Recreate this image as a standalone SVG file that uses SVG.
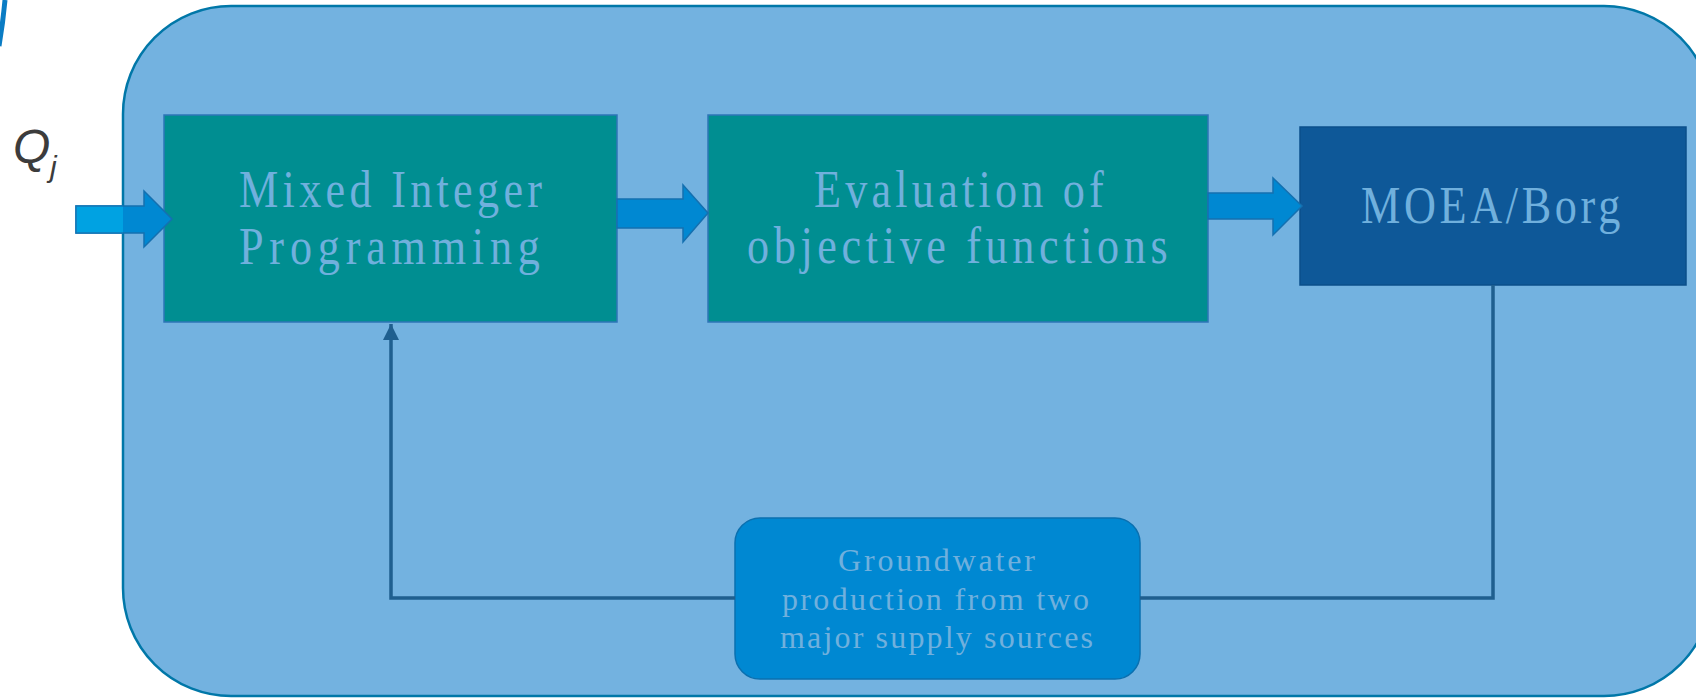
<svg xmlns="http://www.w3.org/2000/svg" width="1696" height="698" viewBox="0 0 1696 698">
  <defs>
    <style>
      .box { stroke-width: 1.5; }
      .lbl { font-family: "Liberation Serif", "Times New Roman", serif; fill: #70b0dd; }
      .big { font-size: 52px; }
      .small { font-size: 32px; }
      .fat { fill: #0088d2; stroke: #1470b0; stroke-width: 1.5; stroke-linejoin: miter; }
      .fb { fill: none; stroke: #1f5f8f; stroke-width: 3.5; }
    </style>
    <marker id="ah" markerUnits="userSpaceOnUse" markerWidth="18" markerHeight="18" refX="16" refY="8" orient="auto">
      <path d="M0,0 L16,8 L0,16 Z" fill="#1f5f8f"/>
    </marker>
    <clipPath id="outside">
      <rect x="0" y="0" width="123" height="698"/>
    </clipPath>
  </defs>

  <rect width="1696" height="698" fill="#ffffff"/>
  <path d="M5,0 Q3,22 -1,46" fill="none" stroke="#0a7cc4" stroke-width="5"/>

  <g id="container">
    <rect x="123" y="6" width="1589" height="690" rx="108" ry="108" fill="#73b2e0" stroke="#0077a8" stroke-width="2.5"/>
  </g>

  <g id="q-label">
    <text x="13" y="163" font-family="Liberation Sans, Arial, sans-serif" font-style="italic" font-size="48" fill="#3c3c3c">Q</text>
    <text x="50" y="177" font-family="Liberation Sans, Arial, sans-serif" font-style="italic" font-size="30" fill="#3c3c3c">j</text>
  </g>

  <g id="node-mip">
    <rect class="box" x="164" y="115" width="453" height="207" fill="#008e91" stroke="#2e75b6"/>
    <text class="lbl big" transform="translate(239,207) scale(0.85,1)" textLength="356.5" lengthAdjust="spacing">Mixed Integer</text>
    <text class="lbl big" transform="translate(239,264) scale(0.85,1)" textLength="354" lengthAdjust="spacing">Programming</text>
  </g>

  <g id="node-eval">
    <rect class="box" x="708" y="115" width="500" height="207" fill="#008e91" stroke="#2e75b6"/>
    <text class="lbl big" transform="translate(814,207) scale(0.85,1)" textLength="341" lengthAdjust="spacing">Evaluation of</text>
    <text class="lbl big" transform="translate(747,263) scale(0.85,1)" textLength="495" lengthAdjust="spacing">objective functions</text>
  </g>

  <g id="node-moea">
    <rect class="box" x="1300" y="127" width="386" height="158" fill="#0e5898" stroke="#0b4f8a"/>
    <text class="lbl big" transform="translate(1361,223) scale(0.85,1)" textLength="305" lengthAdjust="spacing">MOEA/Borg</text>
  </g>

  <g id="node-groundwater">
    <rect x="735" y="518" width="405" height="161" rx="25" ry="25" fill="#0088d2" stroke="#0a70b0" stroke-width="1.5"/>
    <text class="lbl small" x="838" y="571" textLength="197" lengthAdjust="spacing">Groundwater</text>
    <text class="lbl small" x="782" y="610" textLength="307" lengthAdjust="spacing">production from two</text>
    <text class="lbl small" x="780" y="648" textLength="313" lengthAdjust="spacing">major supply sources</text>
  </g>

  <g id="connectors">
    <path class="fat" d="M76,206 L144,206 L144,191 L172,219 L144,247 L144,233 L76,233 Z"/>
    <path d="M76,206 L144,206 L144,191 L172,219 L144,247 L144,233 L76,233 Z" fill="#00a2e2" stroke="#1478b8" stroke-width="1.5" clip-path="url(#outside)"/>
    <path class="fat" d="M617,199 L683,199 L683,185 L708,213 L683,242 L683,228 L617,228 Z"/>
    <path class="fat" d="M1208,193 L1273,193 L1273,178 L1302,206 L1273,235 L1273,219 L1208,219 Z"/>
    <polyline class="fb" points="1493,285 1493,598 1140,598"/>
    <polyline class="fb" points="735,598 391,598 391,324" marker-end="url(#ah)"/>
  </g>
</svg>
